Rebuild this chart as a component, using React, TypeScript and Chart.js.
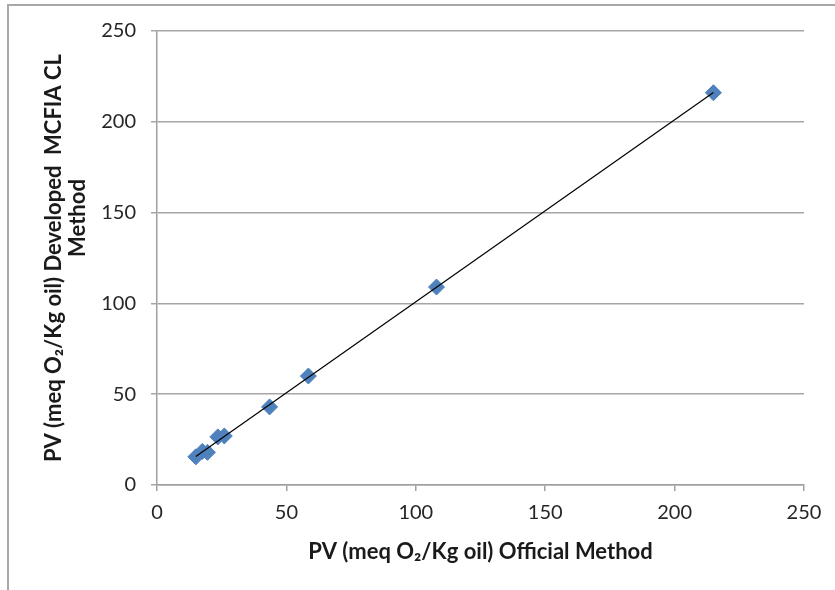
import React, { useEffect, useRef } from "react";
import { Chart, registerables } from "chart.js";

Chart.register(...registerables);

// ---- data ----
const officialPV = [15, 17.5, 19.5, 23.5, 26, 43.5, 58.5, 108, 215];
const developedPV = [15.5, 18.5, 18, 26.5, 27, 43, 60, 109, 216];
const tickValues = [0, 50, 100, 150, 200, 250];
const xTitle = "PV (meq O\u2082/Kg oil) Official Method";
const yTitleLines = ["PV (meq O\u2082/Kg oil) Developed  MCFIA CL", "Method"];

const FONT = "Lato, 'Open Sans', sans-serif";
// layout of the two y-title lines (centre x, centre y)
const Y_TITLE_POS = [
  [54, 258],
  [78, 218],
];

function linearFit(xs: number[], ys: number[]) {
  const n = xs.length;
  const mx = xs.reduce((a, b) => a + b, 0) / n;
  const my = ys.reduce((a, b) => a + b, 0) / n;
  let sxy = 0;
  let sxx = 0;
  for (let i = 0; i < n; i++) {
    sxy += (xs[i] - mx) * (ys[i] - my);
    sxx += (xs[i] - mx) * (xs[i] - mx);
  }
  const slope = sxy / sxx;
  return { slope, intercept: my - slope * mx };
}

const framePlugin = {
  id: "frame",
  beforeDraw(chart: any) {
    const ctx = chart.ctx;
    ctx.save();
    ctx.fillStyle = "#ffffff";
    ctx.fillRect(0, 0, chart.width, chart.height);
    ctx.strokeStyle = "#a8a8a8";
    ctx.lineWidth = 2;
    ctx.beginPath();
    ctx.moveTo(8, chart.height);
    ctx.lineTo(8, 5);
    ctx.lineTo(chart.width, 5);
    ctx.stroke();
    ctx.restore();
  },
  afterDraw(chart: any) {
    const ctx = chart.ctx;
    ctx.save();
    ctx.font = `bold 22px ${FONT}`;
    ctx.fillStyle = "#1a1a1a";
    ctx.textAlign = "center";
    ctx.textBaseline = "middle";
    yTitleLines.forEach((line, i) => {
      ctx.save();
      ctx.translate(Y_TITLE_POS[i][0], Y_TITLE_POS[i][1]);
      ctx.rotate(-Math.PI / 2);
      ctx.fillText(line, 0, 0);
      ctx.restore();
    });
    ctx.restore();
  },
};

export default function App() {
  const ref = useRef<HTMLCanvasElement | null>(null);

  useEffect(() => {
    if (!ref.current) return;
    const fit = linearFit(officialPV, developedPV);
    const xMin = Math.min(...officialPV);
    const xMax = Math.max(...officialPV);
    const points = officialPV.map((x, i) => ({ x, y: developedPV[i] }));
    const trend = [
      { x: xMin, y: fit.slope * xMin + fit.intercept },
      { x: xMax, y: fit.slope * xMax + fit.intercept },
    ];

    const chart = new Chart(ref.current, {
      type: "scatter",
      data: {
        datasets: [
          {
            label: "Linear",
            data: trend,
            showLine: true,
            borderColor: "#000000",
            borderWidth: 1.2,
            pointRadius: 0,
            order: 0,
          } as any,
          {
            label: "PV",
            data: points,
            pointStyle: "rectRot",
            pointRadius: 8,
            pointHoverRadius: 8,
            backgroundColor: "#4F81BD",
            borderColor: "#4F81BD",
            borderWidth: 1,
            order: 1,
          } as any,
        ],
      },
      options: {
        responsive: false,
        animation: false,
        layout: { padding: { left: 0, top: 31, right: 31, bottom: 15 } },
        plugins: {
          legend: { display: false },
          tooltip: { enabled: false },
        },
        scales: {
          x: {
            type: "linear",
            min: 0,
            max: 250,
            afterBuildTicks: (s: any) => {
              s.ticks = tickValues.map((v) => ({ value: v }));
            },
            afterFit: (s: any) => {
              s.height = 90;
            },
            grid: {
              drawOnChartArea: false,
              drawTicks: true,
              tickLength: 6,
              color: "#a0a0a0",
              lineWidth: 1.5,
            },
            border: { display: true, color: "#a0a0a0", width: 1.5 },
            ticks: {
              padding: 10,
              color: "#262626",
              font: { family: FONT, size: 20 },
            },
            title: {
              display: true,
              text: xTitle,
              color: "#1a1a1a",
              font: { family: FONT, size: 22, weight: "bold", lineHeight: 1.2 },
              padding: { top: 0, bottom: 10 },
            },
          },
          y: {
            type: "linear",
            min: 0,
            max: 250,
            afterBuildTicks: (s: any) => {
              s.ticks = tickValues.map((v) => ({ value: v }));
            },
            afterFit: (s: any) => {
              s.width = 157;
            },
            grid: {
              drawOnChartArea: true,
              drawTicks: true,
              tickLength: 6,
              color: "#a6a6a6",
              lineWidth: 1.5,
            },
            border: { display: true, color: "#a0a0a0", width: 1.5 },
            ticks: {
              padding: 15,
              color: "#262626",
              font: { family: FONT, size: 20 },
            },
            title: { display: false },
          },
        },
      },
      plugins: [framePlugin],
    });
    return () => chart.destroy();
  }, []);

  return (
    <div style={{ position: "fixed", left: 0, top: 0, width: 835, height: 590 }}>
      <canvas ref={ref} width={835} height={590} style={{ display: "block" }} />
    </div>
  );
}
